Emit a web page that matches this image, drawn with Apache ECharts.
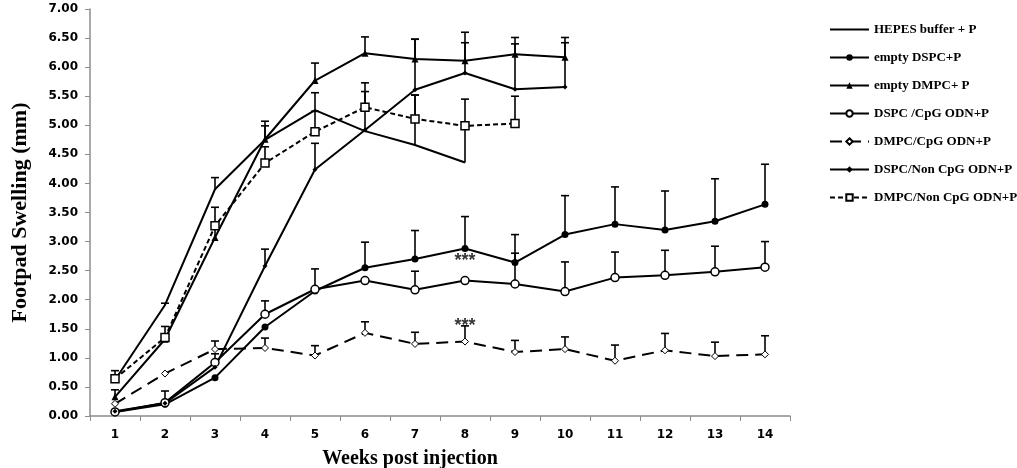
<!DOCTYPE html>
<html>
<head>
<meta charset="utf-8">
<script src="https://cdn.jsdelivr.net/npm/echarts@6/dist/echarts.min.js"></script>
<style>html,body{margin:0;padding:0;background:#fff;}#c{width:1017px;height:468px;}</style>
</head>
<body>
<div id="c"></div>
<script>
// ---------- data ----------
const weeks = ['1','2','3','4','5','6','7','8','9','10','11','12','13','14'];
const yTicks = [0,0.5,1,1.5,2,2.5,3,3.5,4,4.5,5,5.5,6,6.5,7];

const names = ['HEPES buffer + P','empty DSPC+P','empty DMPC+ P','DSPC /CpG ODN+P','DMPC/CpG ODN+P','DSPC/Non CpG ODN+P','DMPC/Non CpG ODN+P'];

const hepes      = [0.62, 1.91, 3.90, 4.75, 5.26, 4.90, 4.66, 4.36];
const hepesErr   = [null, 0.03, 0.20, 0.32, 0.30, null, 0.86, 0.70];

const emptyDSPC    = [0.07, 0.20, 0.66, 1.53, 2.15, 2.55, 2.70, 2.88, 2.64, 3.12, 3.30, 3.20, 3.35, 3.64];
const emptyDSPCErr = [null, null, null, null, null, 0.44, 0.49, 0.55, 0.48, 0.67, 0.64, 0.67, 0.73, 0.69];

const emptyDMPC    = [0.33, 1.32, 3.07, 4.76, 5.77, 6.24, 6.14, 6.11, 6.22, 6.17];
const emptyDMPCErr = [0.12, null, 0.15, 0.23, 0.30, 0.28, 0.34, 0.49, 0.29, 0.34];

const dspcCpG    = [0.07, 0.23, 0.92, 1.75, 2.18, 2.33, 2.17, 2.33, 2.27, 2.14, 2.38, 2.42, 2.48, 2.56];
const dspcCpGErr = [null, 0.20, 0.15, 0.23, 0.35, null, 0.32, null, 0.53, 0.51, 0.44, 0.43, 0.44, 0.44];

const dmpcCpG    = [0.21, 0.73, 1.15, 1.17, 1.04, 1.43, 1.24, 1.28, 1.10, 1.15, 0.95, 1.13, 1.03, 1.06];
const dmpcCpGErr = [null, null, 0.14, 0.17, 0.17, 0.19, 0.20, 0.27, 0.20, 0.21, 0.27, 0.29, 0.24, 0.32];

const dspcNon    = [0.08, 0.22, 0.84, 2.58, 4.24, 4.92, 5.61, 5.90, 5.62, 5.66];
const dspcNonErr = [null, null, null, 0.29, 0.45, 0.81, 0.87, 0.52, 0.78, 0.76];

const dmpcNon    = [0.64, 1.35, 3.27, 4.35, 4.89, 5.31, 5.11, 4.99, 5.03];
const dmpcNonErr = [0.14, 0.19, 0.32, 0.28, 0.35, 0.27, 0.41, 0.46, 0.47];

// significance marks: [week index, y value, text]
const sigMarks = [[7, 2.66, '***'], [7, 1.55, '***']];

// ---------- chart ----------
const chart = echarts.init(document.getElementById('c'), null, {renderer: 'canvas'});
const serif = 'Liberation Serif';
const sans = 'DejaVu Sans';

function errRender(params, api) {
  const x = api.value(0), v = api.value(1), e = api.value(2);
  const p0 = api.coord([x, v]);
  const p1 = api.coord([x, v + e]);
  return {
    type: 'group',
    children: [
      {type: 'line', shape: {x1: p0[0], y1: p0[1], x2: p1[0], y2: p1[1]}, style: {stroke: '#000', lineWidth: 1.6}},
      {type: 'line', shape: {x1: p1[0] - 4, y1: p1[1], x2: p1[0] + 4, y2: p1[1]}, style: {stroke: '#000', lineWidth: 1.6}}
    ]
  };
}
function errData(vals, errs) {
  const out = [];
  errs.forEach((e, i) => { if (e != null && vals[i] != null) out.push([i, vals[i], e]); });
  return out;
}
function errSeries(vals, errs) {
  return {type: 'custom', renderItem: errRender, data: errData(vals, errs), z: 1, silent: true,
          encode: {x: 0, y: 1}, clip: false};
}
function lineSeries(name, data, sym, size, fill, dash, border) {
  return {
    name: name, type: 'line', data: data, z: 3,
    symbol: sym, symbolSize: size, showSymbol: sym !== 'none',
    lineStyle: {color: '#000', width: 2, type: dash || 'solid'},
    itemStyle: {color: fill, borderColor: '#000', borderWidth: border || 0},
    emphasis: {disabled: true}
  };
}

const series = [
  lineSeries(names[0], hepes, 'none', 0, '#000'),
  lineSeries(names[1], emptyDSPC, 'circle', 7, '#000'),
  lineSeries(names[2], emptyDMPC, 'triangle', 7, '#000'),
  lineSeries(names[3], dspcCpG, 'circle', 8, '#fff', 'solid', 1.5),
  lineSeries(names[4], dmpcCpG, 'diamond', 7, '#fff', [12, 7], 1),
  lineSeries(names[5], dspcNon, 'diamond', 5, '#000'),
  lineSeries(names[6], dmpcNon, 'rect', 8, '#fff', [5, 3], 1.5),
  errSeries(hepes, hepesErr),
  errSeries(emptyDSPC, emptyDSPCErr),
  errSeries(emptyDMPC, emptyDMPCErr),
  errSeries(dspcCpG, dspcCpGErr),
  errSeries(dmpcCpG, dmpcCpGErr),
  errSeries(dspcNon, dspcNonErr),
  errSeries(dmpcNon, dmpcNonErr),
  {
    type: 'scatter', symbolSize: 0, z: 4, silent: true,
    data: sigMarks.map(m => [m[0], m[1], m[2]]),
    label: {show: true, position: 'inside', formatter: p => p.data[2],
            color: '#000', fontFamily: 'Liberation Sans', fontWeight: 'bold', fontSize: 18}
  }
];

const legendData = names.map((n, i) => i === 0
  ? {name: n, itemStyle: {opacity: 0}}
  : {name: n});

chart.setOption({
  animation: false,
  backgroundColor: '#fff',
  grid: {left: 90, right: 227, top: 9, bottom: 52, containLabel: false, outerBoundsMode: 'none'},
  legend: {
    orient: 'vertical', left: 824, top: 18,
    itemWidth: 39, itemHeight: 8, itemGap: 15,
    data: legendData,
    textStyle: {fontFamily: serif, fontWeight: 'bold', fontSize: 13, color: '#000'}
  },
  xAxis: {
    type: 'category', data: weeks, boundaryGap: true,
    name: 'Weeks post injection', nameLocation: 'middle', nameGap: 33,
    nameTextStyle: {fontFamily: serif, fontWeight: 'bold', fontSize: 20, color: '#000', padding: [0, 60, 0, 0]},
    axisLine: {lineStyle: {color: '#8c8c8c', width: 1.5}},
    axisTick: {show: true, length: 5, alignWithLabel: false, lineStyle: {color: '#8c8c8c'}},
    axisLabel: {fontFamily: sans, fontWeight: 'bold', fontSize: 12, color: '#000', margin: 13}
  },
  yAxis: {
    type: 'value', min: 0, max: 7, interval: 0.5,
    name: 'Footpad Swelling (mm)', nameLocation: 'middle', nameGap: 59, nameRotate: 90,
    nameTextStyle: {fontFamily: serif, fontWeight: 'bold', fontSize: 22, color: '#000'},
    axisLine: {show: true, lineStyle: {color: '#8c8c8c', width: 1.5}},
    axisTick: {show: true, length: 5, lineStyle: {color: '#8c8c8c'}},
    splitLine: {show: false},
    axisLabel: {fontFamily: sans, fontWeight: 'bold', fontSize: 12, color: '#000', margin: 12,
                formatter: v => v.toFixed(2)}
  },
  series: series
});
</script>
</body>
</html>
